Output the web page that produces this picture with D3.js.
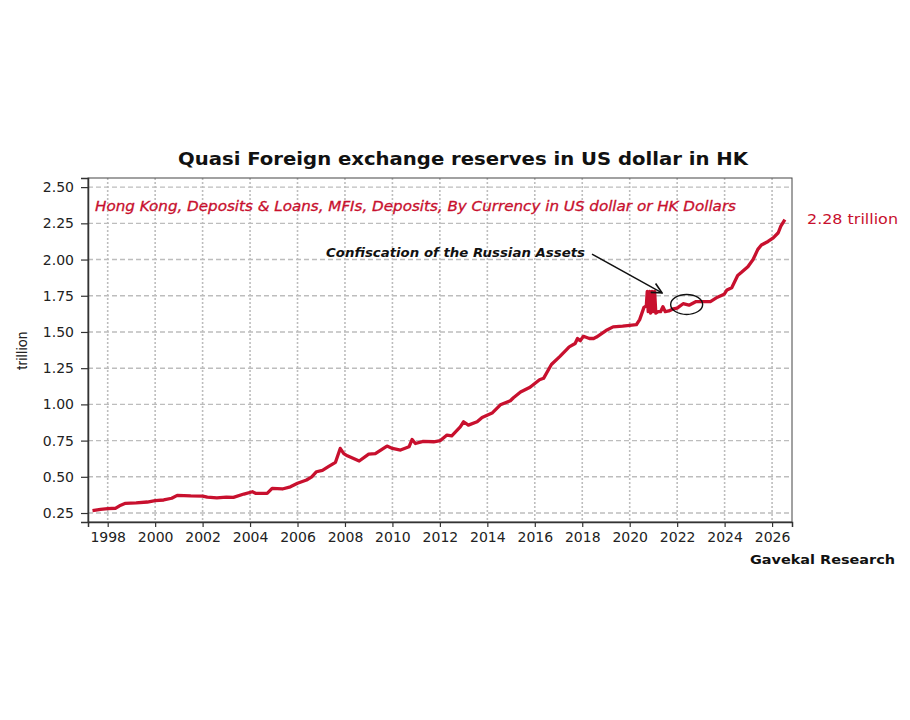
<!DOCTYPE html>
<html>
<head>
<meta charset="utf-8">
<script src="https://cdn.jsdelivr.net/npm/d3@7"></script>
<style>
  body { margin: 0; background: #fff; }
</style>
</head>
<body>
<div id="chart"></div>
<script>
// series: decimal year, value in trillion
var dates = [
  1997.36, 1997.7, 1998.0, 1998.34, 1998.5, 1998.75, 1999.2, 1999.67, 2000.0, 2000.36,
  2000.7, 2000.93, 2001.5, 2002.0, 2002.2, 2002.6, 2003.0, 2003.3, 2003.74, 2004.1,
  2004.23, 2004.72, 2004.93, 2005.36, 2005.7, 2006.0, 2006.38, 2006.6, 2006.8, 2007.05,
  2007.3, 2007.6, 2007.8, 2007.95, 2008.1, 2008.6, 2009.0, 2009.28, 2009.77, 2010.0,
  2010.34, 2010.7, 2010.83, 2010.97, 2011.3, 2011.74, 2012.02, 2012.3, 2012.5, 2012.86,
  2013.0, 2013.2, 2013.57, 2013.78, 2014.2, 2014.55, 2014.97, 2015.1, 2015.4, 2015.8,
  2016.2, 2016.37, 2016.7, 2017.05, 2017.35, 2017.45, 2017.7, 2017.8, 2017.92, 2018.05,
  2018.3, 2018.48, 2018.6, 2019.0, 2019.3, 2019.7, 2020.0, 2020.28, 2020.42, 2020.6,
  2020.70, 2020.74, 2020.78, 2020.84, 2020.88, 2020.94, 2020.99, 2021.05, 2021.10, 2021.2,
  2021.3, 2021.4, 2021.5, 2021.65, 2021.84, 2022.0, 2022.25, 2022.5, 2022.8, 2023.1,
  2023.4, 2023.7, 2023.98, 2024.1, 2024.3, 2024.55, 2024.7, 2024.98, 2025.2, 2025.4,
  2025.55, 2025.83, 2026.05, 2026.26, 2026.37, 2026.54
];
var values = [
  0.266, 0.275, 0.280, 0.283, 0.300, 0.317, 0.320, 0.326, 0.335, 0.340,
  0.352, 0.372, 0.368, 0.367, 0.360, 0.355, 0.360, 0.358, 0.381, 0.397,
  0.386, 0.386, 0.420, 0.416, 0.431, 0.455, 0.478, 0.500, 0.535, 0.545,
  0.570, 0.600, 0.696, 0.660, 0.645, 0.609, 0.657, 0.660, 0.712, 0.696,
  0.685, 0.707, 0.758, 0.730, 0.745, 0.742, 0.750, 0.788, 0.783, 0.845,
  0.880, 0.857, 0.880, 0.910, 0.940, 0.997, 1.025, 1.046, 1.085, 1.118,
  1.170, 1.180, 1.275, 1.330, 1.380, 1.397, 1.420, 1.455, 1.440, 1.470,
  1.455, 1.455, 1.465, 1.510, 1.535, 1.540, 1.545, 1.550, 1.585, 1.670,
  1.680, 1.780, 1.640, 1.780, 1.630, 1.780, 1.640, 1.780, 1.630, 1.640,
  1.640, 1.675, 1.640, 1.645, 1.660, 1.665, 1.695, 1.685, 1.710, 1.710,
  1.710, 1.740, 1.760, 1.790, 1.805, 1.890, 1.910, 1.950, 2.000, 2.070,
  2.100, 2.125, 2.150, 2.185, 2.230, 2.275
];
var yearTicks = [1998, 2000, 2002, 2004, 2006, 2008, 2010, 2012, 2014, 2016, 2018, 2020, 2022, 2024, 2026];
var valueTicks = [0.25, 0.50, 0.75, 1.00, 1.25, 1.50, 1.75, 2.00, 2.25, 2.50];

var titleText = "Quasi Foreign exchange reserves in US dollar in HK";
var subtitleText = "Hong Kong, Deposits & Loans, MFIs, Deposits, By Currency in US dollar or HK Dollars";
var noteText = "Confiscation of the Russian Assets";
var lastLabel = "2.28 trillion";
var unitLabel = "trillion";
var sourceText = "Gavekal Research";

var red = "#c8102e";
var font = "DejaVu Sans, sans-serif";
var width = 910, height = 720;
var margin = {top: 178, right: 118, bottom: 198, left: 88};
var w = width - margin.left - margin.right;
var h = height - margin.top - margin.bottom;

var svg = d3.select("#chart").append("svg")
    .attr("width", width)
    .attr("height", height);

var x = d3.scaleLinear().domain([1997.17, 2026.84]).range([0, w]);
var y = d3.scaleLinear().domain([0.188, 2.563]).range([h, 0]);

var g = svg.append("g")
    .attr("transform", "translate(" + margin.left + "," + margin.top + ")");

// grid
g.selectAll(".hgrid")
    .data(valueTicks)
  .enter().append("line")
    .attr("x1", 0).attr("x2", w)
    .attr("y1", function(d) {return y(d);})
    .attr("y2", function(d) {return y(d);})
    .attr("stroke", "#bdbdbd")
    .attr("stroke-width", 1.4)
    .attr("stroke-dasharray", "5,3");
g.selectAll(".vgrid")
    .data(yearTicks)
  .enter().append("line")
    .attr("y1", 0).attr("y2", h)
    .attr("x1", function(d) {return x(d);})
    .attr("x2", function(d) {return x(d);})
    .attr("stroke", "#bdbdbd")
    .attr("stroke-width", 1.6)
    .attr("stroke-dasharray", "2,2");

// frame
g.append("rect")
    .attr("width", w).attr("height", h)
    .attr("fill", "none")
    .attr("stroke", "#444")
    .attr("stroke-width", 1);

// axes
var xAxis = g.append("g")
    .attr("transform", "translate(0," + h + ")")
    .call(d3.axisBottom(x).tickValues(yearTicks).tickFormat(d3.format("d")).tickSize(5).tickPadding(5));
var yAxis = g.append("g")
    .call(d3.axisLeft(y).tickValues(valueTicks).tickFormat(d3.format(".2f")).tickSize(7).tickPadding(7));
[xAxis, yAxis].forEach(function(a) {
    a.select(".domain").attr("stroke", "#333").attr("stroke-width", 1.5);
    a.selectAll(".tick line").attr("stroke", "#333").attr("stroke-width", 1.2);
    a.selectAll(".tick text")
        .attr("fill", "#222")
        .attr("font-family", font)
        .attr("font-size", 14);
});

// series
var pts = dates.map(function(d, i) {return [d, values[i]];});
g.append("path")
    .datum(pts)
    .attr("fill", "none")
    .attr("stroke", red)
    .attr("stroke-width", 3.3)
    .attr("stroke-linejoin", "round")
    .attr("d", d3.line()
        .x(function(d) {return x(d[0]);})
        .y(function(d) {return y(d[1]);}));

// annotation
svg.append("defs").append("marker")
    .attr("id", "arrow")
    .attr("viewBox", "0 0 10 10")
    .attr("refX", 9).attr("refY", 5)
    .attr("markerWidth", 9).attr("markerHeight", 9)
    .attr("orient", "auto")
  .append("path")
    .attr("d", "M1,1 L9,5 L1,9")
    .attr("fill", "none")
    .attr("stroke", "#111")
    .attr("stroke-width", 1.3);

g.append("text")
    .attr("x", 238)
    .attr("y", y(2.02))
    .attr("font-family", font)
    .attr("font-style", "italic")
    .attr("font-weight", "bold")
    .attr("font-size", 13)
    .attr("textLength", 259)
    .attr("lengthAdjust", "spacingAndGlyphs")
    .attr("fill", "#111")
    .text(noteText);
g.append("line")
    .attr("x1", x(2018.41)).attr("y1", y(2.038))
    .attr("x2", x(2021.36)).attr("y2", y(1.77))
    .attr("stroke", "#111")
    .attr("stroke-width", 1.4)
    .attr("marker-end", "url(#arrow)");
g.append("ellipse")
    .attr("cx", x(2022.4)).attr("cy", y(1.69))
    .attr("rx", 16).attr("ry", 10)
    .attr("fill", "none")
    .attr("stroke", "#111")
    .attr("stroke-width", 1.4);

// texts
svg.append("text")
    .attr("x", 178).attr("y", 165)
    .attr("font-family", font)
    .attr("font-weight", "bold")
    .attr("font-size", 17)
    .attr("textLength", 570)
    .attr("lengthAdjust", "spacingAndGlyphs")
    .attr("fill", "#111")
    .text(titleText);
g.append("text")
    .attr("x", 7).attr("y", 33)
    .attr("font-family", font)
    .attr("font-style", "italic")
    .attr("font-size", 13.5)
    .attr("textLength", 641)
    .attr("lengthAdjust", "spacingAndGlyphs")
    .attr("fill", red)
    .attr("stroke", red)
    .attr("stroke-width", 0.3)
    .text(subtitleText);
g.append("text")
    .attr("x", w + 15)
    .attr("y", y(2.28) + 5)
    .attr("font-family", font)
    .attr("font-size", 14)
    .attr("textLength", 91)
    .attr("lengthAdjust", "spacingAndGlyphs")
    .attr("fill", red)
    .text(lastLabel);
svg.append("text")
    .attr("transform", "translate(27," + (margin.top + y(1.37)) + ")rotate(-90)")
    .attr("text-anchor", "middle")
    .attr("font-family", "Liberation Sans Narrow, Roboto, sans-serif")
    .attr("font-size", 14)
    .attr("fill", "#222")
    .text(unitLabel);
svg.append("text")
    .attr("x", 750).attr("y", 564)
    .attr("font-family", font)
    .attr("font-weight", "bold")
    .attr("font-size", 12)
    .attr("textLength", 145)
    .attr("lengthAdjust", "spacingAndGlyphs")
    .attr("fill", "#111")
    .text(sourceText);
</script>
</body>
</html>
